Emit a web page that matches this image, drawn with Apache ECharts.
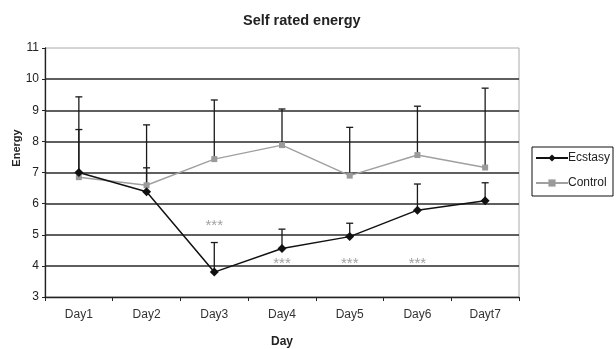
<!DOCTYPE html>
<html>
<head>
<meta charset="utf-8">
<script src="https://cdn.jsdelivr.net/npm/echarts@6/dist/echarts.min.js"></script>
<style>
  html, body { margin: 0; padding: 0; background: #fff; }
  #chart { width: 616px; height: 349px; }
</style>
</head>
<body>
<div id="chart"></div>
<script>
// Self rated energy: group means with upper SD bars over seven days
const days = ['Day1', 'Day2', 'Day3', 'Day4', 'Day5', 'Day6', 'Dayt7'];
const ecstasy = [7.0, 6.38, 3.8, 4.56, 4.94, 5.79, 6.09];
const ecstasySD = [1.38, 0.77, 0.95, 0.62, 0.43, 0.84, 0.58];
const control = [6.85, 6.59, 7.43, 7.88, 6.9, 7.56, 7.16];
const controlSD = [2.58, 1.94, 1.9, 1.16, 1.55, 1.57, 2.55];
// significance markers: [day index, energy level]
const sigMarks = [[2, 5.3], [3, 4.05], [4, 4.05], [5, 4.05]];
const yTicks = { min: 3, max: 11, interval: 1 };

const FONT = 'Liberation Sans, Arial, sans-serif';

function errorBars(means, sds) {
  return means.map((m, i) => [i, m, sds[i]]);
}

function renderErrorBar(params, api) {
  const x = api.value(0);
  const m = api.value(1);
  const sd = api.value(2);
  const base = api.coord([x, m]);
  const top = api.coord([x, m + sd]);
  const cap = 3.5;
  const style = { stroke: '#1a1a1a', lineWidth: 1.3 };
  return {
    type: 'group',
    children: [
      { type: 'line', shape: { x1: base[0], y1: base[1], x2: top[0], y2: top[1] }, style },
      { type: 'line', shape: { x1: top[0] - cap, y1: top[1], x2: top[0] + cap, y2: top[1] }, style }
    ]
  };
}

const chart = echarts.init(document.getElementById('chart'), null, { renderer: 'canvas' });
chart.setOption({
  animation: false,
  backgroundColor: '#fff',
  textStyle: { fontFamily: FONT },
  title: {
    text: 'Self rated energy',
    left: 243,
    top: 13,
    padding: 0,
    textStyle: { fontFamily: FONT, fontSize: 14.5, fontWeight: 'bold', color: '#222' }
  },
  graphic: [
    {
      type: 'text',
      x: 17,
      y: 148,
      rotation: Math.PI / 2,
      style: {
        text: 'Energy',
        fontFamily: FONT,
        fontSize: 11,
        fontWeight: 'bold',
        fill: '#222',
        align: 'center',
        verticalAlign: 'middle'
      }
    }
  ],
  legend: {
    data: ['Ecstasy', 'Control'],
    orient: 'vertical',
    left: 532,
    top: 147,
    padding: [5, 3, 7, 3],
    itemGap: 13,
    itemWidth: 32,
    itemHeight: 9,
    borderColor: '#111',
    borderWidth: 1,
    borderRadius: 0,
    textStyle: { fontFamily: FONT, fontSize: 12, color: '#222', padding: [0, 0, 0, -5] }
  },
  grid: {
    left: 45,
    right: 97,
    top: 48,
    bottom: 52,
    outerBoundsMode: 'none',
    containLabel: false,
    show: true,
    borderColor: '#aaa',
    borderWidth: 1
  },
  xAxis: {
    type: 'category',
    data: days,
    boundaryGap: true,
    name: 'Day',
    nameLocation: 'middle',
    nameGap: 39,
    nameTextStyle: { fontFamily: FONT, fontSize: 12, fontWeight: 'bold', color: '#222' },
    axisLine: { lineStyle: { color: '#222', width: 1.3 } },
    axisTick: { show: true, length: 4, lineStyle: { color: '#222' } },
    axisLabel: { fontFamily: FONT, fontSize: 12, color: '#333', margin: 12 },
    splitLine: { show: false }
  },
  yAxis: {
    type: 'value',
    min: yTicks.min,
    max: yTicks.max,
    interval: yTicks.interval,
    axisLine: { show: true, lineStyle: { color: '#222', width: 1.3 } },
    axisTick: { show: true, length: 3, lineStyle: { color: '#222' } },
    axisLabel: { fontFamily: FONT, fontSize: 12, color: '#222', margin: 6 },
    splitLine: { show: true, showMinLine: false, showMaxLine: false, lineStyle: { color: '#2a2a2a', width: 1.5 } }
  },
  series: [
    {
      name: 'Ecstasy SD',
      type: 'custom',
      renderItem: renderErrorBar,
      data: errorBars(ecstasy, ecstasySD),
      z: 1,
      silent: true
    },
    {
      name: 'Control SD',
      type: 'custom',
      renderItem: renderErrorBar,
      data: errorBars(control, controlSD),
      z: 1,
      silent: true
    },
    {
      name: 'Control',
      type: 'line',
      data: control,
      symbol: 'rect',
      symbolSize: 6,
      itemStyle: { color: '#9a9a9a' },
      lineStyle: { color: '#a0a0a0', width: 1.5 },
      z: 2
    },
    {
      name: 'Ecstasy',
      type: 'line',
      data: ecstasy,
      symbol: 'diamond',
      symbolSize: 9,
      itemStyle: { color: '#111' },
      lineStyle: { color: '#111', width: 1.5 },
      z: 3
    },
    {
      name: 'sig',
      type: 'scatter',
      data: sigMarks,
      symbol: 'circle',
      symbolSize: 1,
      itemStyle: { color: 'rgba(0,0,0,0)' },
      silent: true,
      label: {
        show: true,
        position: 'inside',
        formatter: '***',
        fontFamily: FONT,
        fontSize: 15,
        color: '#8a8a8a'
      },
      z: 4
    }
  ]
});
</script>
</body>
</html>
